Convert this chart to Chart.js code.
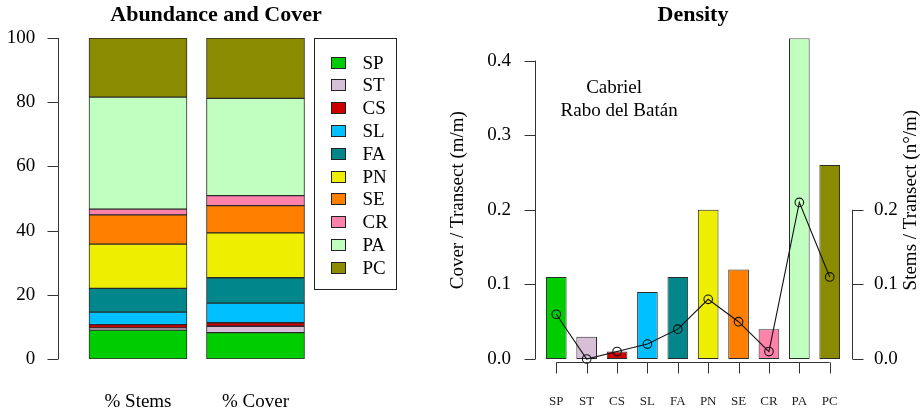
<!DOCTYPE html>
<html>
<head>
<meta charset="utf-8">
<script src="https://cdn.jsdelivr.net/npm/chart.js@4"></script>
<style>
  html, body { margin: 0; padding: 0; background: #fff; }
  #wrap { position: relative; width: 922px; height: 412px; overflow: hidden; }
  canvas { position: absolute; top: 0; }
  #abund { left: 0; }
  #density { left: 432px; }
</style>
</head>
<body>
<div id="wrap">
  <canvas id="abund" width="432" height="412"></canvas>
  <canvas id="density" width="490" height="412"></canvas>
</div>
<script>
// Species codes and their shares / densities along the transect
const species = ['SP', 'ST', 'CS', 'SL', 'FA', 'PN', 'SE', 'CR', 'PA', 'PC'];
const shareLabels = ['% Stems', '% Cover'];
const stemsPct = [9.0, 0.7, 1.0, 3.9, 7.4, 13.8, 9.1, 1.8, 34.9, 18.4];
const coverPct = [8.2, 2.0, 1.1, 6.1, 7.9, 14.0, 8.5, 3.1, 30.3, 18.8];
const coverDensity = [0.11, 0.03, 0.01, 0.09, 0.11, 0.20, 0.12, 0.04, 0.43, 0.26];
const stemsDensity = [0.06, 0.00, 0.01, 0.02, 0.04, 0.08, 0.05, 0.01, 0.21, 0.11];
const pctTicks = [0, 20, 40, 60, 80, 100];
const coverTicks = [0, 0.1, 0.2, 0.3, 0.4];
const stemsTicks = [0, 0.1, 0.2];
const siteLines = ['Cabriel', 'Rabo del Batán'];
const leftTitle = 'Abundance and Cover';
const rightTitle = 'Density';

// One colour per species
const palette = ['#00CD00', '#D8BFD8', '#CD0000', '#00BFFF', '#00868B',
                 '#EEEE00', '#FF7F00', '#FF82AB', '#C1FFC1', '#8B8B00'];

const SERIF = "'Liberation Serif', 'Times New Roman', serif";
Chart.defaults.font.family = SERIF;
Chart.defaults.color = '#000';
const AXIS_COLOR = '#333';
const TICK_LEN = 11;

function setTicks(values) {
  return (scale) => { scale.ticks = values.map(v => ({ value: v })); };
}

// Fixed-size axis boxes that do not push the plot area around
function fixedWidth(w) {
  return (s) => { s.width = w; s.paddingTop = 0; s.paddingBottom = 0; };
}
function fixedHeight(h) {
  return (s) => { s.height = h; s.paddingLeft = 0; s.paddingRight = 0; };
}

// R-style y axis for the stacked chart (line spans first..last tick) plus heading
const pctAxis = {
  id: 'pctAxis',
  afterDraw(chart) {
    const { ctx, chartArea, scales: { y } } = chart;
    const x0 = Math.round(chartArea.left - 21) + 0.5;
    ctx.save();
    ctx.strokeStyle = AXIS_COLOR;
    ctx.lineWidth = 1;
    ctx.beginPath();
    ctx.moveTo(x0, y.getPixelForValue(pctTicks[0]));
    ctx.lineTo(x0, y.getPixelForValue(pctTicks[pctTicks.length - 1]));
    pctTicks.forEach(v => {
      const py = Math.round(y.getPixelForValue(v)) + 0.5;
      ctx.moveTo(x0, py);
      ctx.lineTo(x0 - TICK_LEN, py);
    });
    ctx.stroke();

    ctx.fillStyle = '#000';
    ctx.font = 'bold 22px ' + SERIF;
    ctx.textAlign = 'center';
    ctx.textBaseline = 'middle';
    ctx.fillText(leftTitle, chart.width / 2, 15.5);
    ctx.restore();
  }
};

// Boxed species key to the right of the stacked bars
const speciesKey = {
  id: 'speciesKey',
  afterDraw(chart) {
    const { ctx, chartArea } = chart;
    const bx = Math.round(chartArea.right) + 0.5, by = Math.round(chartArea.top) + 0.5;
    const bw = 82, bh = 251;
    ctx.save();
    ctx.strokeStyle = '#222';
    ctx.lineWidth = 1;
    ctx.strokeRect(bx, by, bw, bh);
    ctx.font = '19px ' + SERIF;
    ctx.textAlign = 'left';
    ctx.textBaseline = 'middle';
    chart.data.datasets.forEach((ds, i) => {
      const cy = Math.round(by + 24 + i * 22.8);
      ctx.fillStyle = ds.backgroundColor;
      ctx.fillRect(bx + 17, cy - 5.5, 14, 11);
      ctx.strokeStyle = '#222';
      ctx.strokeRect(bx + 17, cy - 5.5, 14, 11);
      ctx.fillStyle = '#000';
      ctx.fillText(ds.label, bx + 48, cy + 1);
    });
    ctx.restore();
  }
};

new Chart(document.getElementById('abund'), {
  type: 'bar',
  data: {
    labels: shareLabels,
    datasets: species.map((s, i) => ({
      label: s,
      data: [stemsPct[i], coverPct[i]],
      backgroundColor: palette[i],
      borderColor: '#2a2a2a',
      borderWidth: 1,
      borderSkipped: false,
      barThickness: 98
    }))
  },
  options: {
    responsive: false,
    animation: false,
    devicePixelRatio: 1,
    layout: { padding: { left: 0, right: 117.75, top: 38, bottom: 0 } },
    plugins: {
      legend: { display: false },
      tooltip: { enabled: false },
      title: { display: false }
    },
    scales: {
      x: {
        stacked: true,
        grid: { display: false, drawTicks: false },
        border: { display: false },
        ticks: { font: { size: 19 }, color: '#000', padding: 32 },
        afterFit: fixedHeight(53)
      },
      y: {
        stacked: true,
        min: 0,
        max: 100,
        afterBuildTicks: setTicks(pctTicks),
        grid: { display: false, drawTicks: false },
        border: { display: false },
        ticks: { font: { size: 19 }, color: '#000', padding: 44 },
        afterFit: fixedWidth(79.25)
      }
    }
  },
  plugins: [pctAxis, speciesKey]
});

// R-style axes, axis titles and site note for the density chart
const densityDecor = {
  id: 'densityDecor',
  afterDraw(chart) {
    const { ctx, chartArea, scales: { x, y, y1 } } = chart;
    ctx.save();
    ctx.strokeStyle = AXIS_COLOR;
    ctx.lineWidth = 1;
    ctx.beginPath();
    // left axis
    const lx = Math.round(chartArea.left - 6) + 0.5;
    ctx.moveTo(lx, y.getPixelForValue(coverTicks[0]));
    ctx.lineTo(lx, y.getPixelForValue(coverTicks[coverTicks.length - 1]));
    coverTicks.forEach(v => {
      const py = Math.round(y.getPixelForValue(v)) + 0.5;
      ctx.moveTo(lx, py); ctx.lineTo(lx - TICK_LEN, py);
    });
    // right axis
    const rx = Math.round(chartArea.right + 6.6) + 0.5;
    ctx.moveTo(rx, y1.getPixelForValue(stemsTicks[0]));
    ctx.lineTo(rx, y1.getPixelForValue(stemsTicks[stemsTicks.length - 1]));
    stemsTicks.forEach(v => {
      const py = Math.round(y1.getPixelForValue(v)) + 0.5;
      ctx.moveTo(rx, py); ctx.lineTo(rx + TICK_LEN, py);
    });
    // category axis
    const by = Math.round(chartArea.bottom + 3) + 0.5;
    ctx.moveTo(x.getPixelForValue(0), by);
    ctx.lineTo(x.getPixelForValue(species.length - 1), by);
    species.forEach((s, i) => {
      const px = Math.round(x.getPixelForValue(i)) + 0.5;
      ctx.moveTo(px, by); ctx.lineTo(px, by + TICK_LEN);
    });
    ctx.stroke();

    // axis titles
    ctx.fillStyle = '#000';
    ctx.font = '19px ' + SERIF;
    ctx.textAlign = 'center';
    ctx.textBaseline = 'middle';
    const midY = (chartArea.top + chartArea.bottom) / 2 + 1.5;
    ctx.save();
    ctx.translate(26, midY);
    ctx.rotate(-Math.PI / 2);
    ctx.fillText('Cover / Transect (m/m)', 0, 0);
    ctx.restore();
    ctx.save();
    ctx.translate(chart.width - 10.5, midY);
    ctx.rotate(-Math.PI / 2);
    ctx.fillText('Stems / Transect (n\u00B0/m)', 0, 0);
    ctx.restore();

    // site note
    ctx.fillText(siteLines[0], chartArea.left + 73, 88);
    ctx.fillText(siteLines[1], chartArea.left + 78, 111);
    ctx.restore();
  }
};

new Chart(document.getElementById('density'), {
  type: 'bar',
  data: {
    labels: species,
    datasets: [
      {
        type: 'line',
        label: 'Stems / Transect',
        data: stemsDensity,
        yAxisID: 'y1',
        borderColor: '#111',
        borderWidth: 1.1,
        backgroundColor: 'rgba(0,0,0,0)',
        pointStyle: 'circle',
        pointRadius: 4.3,
        pointBorderWidth: 1.1,
        pointBorderColor: '#111',
        pointBackgroundColor: 'rgba(0,0,0,0)',
        tension: 0,
        clip: false,
        order: 0
      },
      {
        type: 'bar',
        label: 'Cover / Transect',
        data: coverDensity,
        yAxisID: 'y',
        backgroundColor: palette,
        borderColor: '#2a2a2a',
        borderWidth: 1,
        borderSkipped: false,
        categoryPercentage: 1,
        barPercentage: 0.68,
        order: 1
      }
    ]
  },
  options: {
    responsive: false,
    animation: false,
    devicePixelRatio: 1,
    layout: { padding: 0 },
    plugins: {
      legend: { display: false },
      tooltip: { enabled: false },
      title: {
        display: true,
        fullSize: false,
        text: rightTitle,
        font: { size: 22, weight: 'bold', family: SERIF },
        color: '#000',
        padding: { top: 2, bottom: 9.9 }
      }
    },
    scales: {
      x: {
        grid: { display: false, drawTicks: false },
        border: { display: false },
        ticks: { font: { size: 13 }, color: '#222', padding: 35 },
        afterFit: fixedHeight(53)
      },
      y: {
        position: 'left',
        min: 0,
        max: 0.43,
        afterBuildTicks: setTicks(coverTicks),
        grid: { display: false, drawTicks: false },
        border: { display: false },
        ticks: { font: { size: 19 }, color: '#000', padding: 30, callback: v => v.toFixed(1) },
        afterFit: fixedWidth(109.1)
      },
      y1: {
        position: 'right',
        min: 0,
        max: 0.43,
        afterBuildTicks: setTicks(stemsTicks),
        grid: { display: false, drawTicks: false },
        border: { display: false },
        ticks: { font: { size: 19 }, color: '#000', padding: 29, callback: v => v.toFixed(1) },
        afterFit: fixedWidth(77.1)
      }
    }
  },
  plugins: [densityDecor]
});
</script>
</body>
</html>
